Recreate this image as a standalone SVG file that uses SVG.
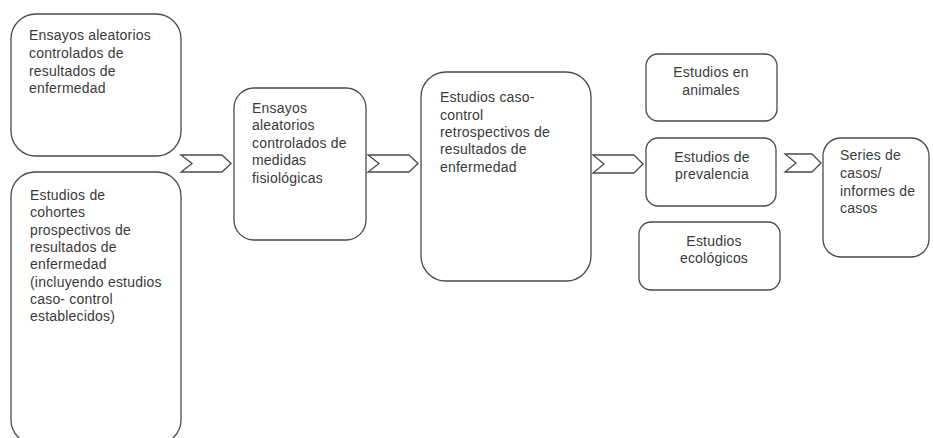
<svg xmlns="http://www.w3.org/2000/svg" width="933" height="438" viewBox="0 0 933 438">
<style>
.box{fill:#fff;stroke:#4a4a4a;stroke-width:1.3}
.chev{fill:#fff;stroke:#4a4a4a;stroke-width:1.3;stroke-linejoin:miter}
text{font-family:"Liberation Sans",Arial,sans-serif;font-size:14px;fill:#3a3a3a;letter-spacing:0.2px}
.c{text-anchor:middle}
</style>
<rect width="933" height="438" fill="#fff"/>
<g id="connectors">
<polygon class="chev" points="181,155 222,155 231,163.5 222,172 181,172 192,163.5"/>
<polygon class="chev" points="368,155 409,155 418,163.5 409,172 368,172 379,163.5"/>
<polygon class="chev" points="593,155 634,155 643,164 634,173 593,173 604,164"/>
<polygon class="chev" points="785,154 812,154 821,163 812,172 785,172 796,163"/>
</g>
<g id="n1">
<rect class="box" x="11" y="14" width="170" height="142" rx="25"/>
<text x="29" y="40">Ensayos aleatorios</text>
<text x="29" y="58">controlados de</text>
<text x="29" y="75.5">resultados de</text>
<text x="29" y="93">enfermedad</text>
</g>
<g id="n2">
<rect class="box" x="11" y="172" width="170" height="272" rx="24"/>
<text x="30" y="200">Estudios de</text>
<text x="30" y="217.3">cohortes</text>
<text x="30" y="234.6">prospectivos de</text>
<text x="30" y="252">resultados de</text>
<text x="30" y="269">enfermedad</text>
<text x="30" y="286.5">(incluyendo estudios</text>
<text x="30" y="304">caso- control</text>
<text x="30" y="321">establecidos)</text>
</g>
<g id="n3">
<rect class="box" x="234" y="88" width="132" height="152" rx="20"/>
<text x="252" y="113">Ensayos</text>
<text x="252" y="130">aleatorios</text>
<text x="252" y="147.5">controlados de</text>
<text x="252" y="165">medidas</text>
<text x="252" y="182.5">fisiológicas</text>
</g>
<g id="n4">
<rect class="box" x="421" y="72" width="170" height="209" rx="25"/>
<text x="440" y="102">Estudios  caso-</text>
<text x="440" y="119.5">control</text>
<text x="440" y="137">retrospectivos de</text>
<text x="440" y="154">resultados de</text>
<text x="440" y="171.5">enfermedad</text>
</g>
<g id="n5">
<rect class="box" x="646" y="54" width="131" height="67" rx="12"/>
<text class="c" x="711" y="77">Estudios en</text>
<text class="c" x="711" y="95">animales</text>
</g>
<g id="n6">
<rect class="box" x="646" y="138" width="130" height="68" rx="12"/>
<text class="c" x="712" y="162">Estudios de</text>
<text class="c" x="712" y="179">prevalencia</text>
</g>
<g id="n7">
<rect class="box" x="639" y="222" width="141" height="68" rx="12"/>
<text class="c" x="714" y="246">Estudios</text>
<text class="c" x="714" y="263">ecológicos</text>
</g>
<g id="n8">
<rect class="box" x="823" y="138" width="106" height="119" rx="18"/>
<text x="840" y="160">Series de</text>
<text x="840" y="178">casos/</text>
<text x="840" y="196">informes de</text>
<text x="840" y="213">casos</text>
</g>
</svg>
